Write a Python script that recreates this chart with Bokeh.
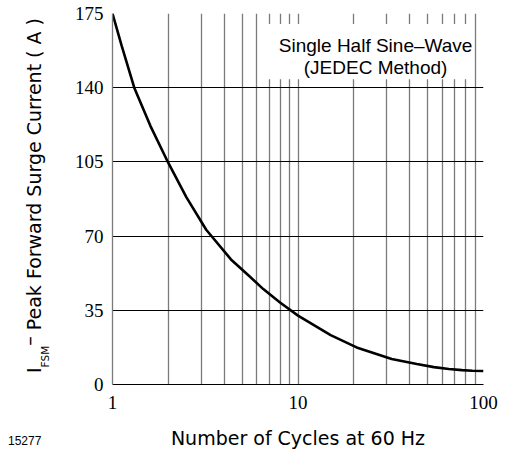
import math
from bokeh.plotting import figure
from bokeh.layouts import row
from bokeh.models import Label, BoxAnnotation, FixedTicker, Range1d, Div
from bokeh.embed import file_html
from bokeh.resources import INLINE

# ---- data ----
cycles = [1, 1.12, 1.31, 1.6, 2, 2.5, 3.2, 4.35, 5.4, 6.5, 8, 10, 15, 20.7, 32, 43.7, 54, 65, 76.5, 87, 100]
current = [175, 159.8, 140, 122, 104.5, 88.4, 73, 59, 51.5, 45, 38.7, 32.5, 23.3, 17.5, 12, 9.7, 8.2, 7.3, 6.8, 6.5, 6.4]

x_major = [1, 10, 100]
x_tick_labels = ["1", "10", "100"]
x_minor = [2, 3, 4, 5, 6, 7, 8, 9, 20, 30, 40, 50, 60, 70, 80, 90]
y_ticks = [0, 35, 70, 105, 140, 175]
y_tick_labels = ["0", "35", "70", "105", "140", "175"]

x_title = "Number of Cycles at 60 Hz"
y_title_main = "I"
y_title_sub = "FSM"
y_title_dash = "–"
y_title_rest = "Peak Forward Surge Current ( A )"
note_lines = ["Single Half Sine–Wave", "(JEDEC Method)"]
fig_id = "15277"

GRID_V = "#7a7a7a"
SANS = "DejaVu Sans"
SERIF = "Liberation Serif"

LEFT_W = 60
TOTAL_H = 450

# ---- main chart ----
p = figure(
    x_axis_type="log",
    x_range=Range1d(1, 100),
    y_range=Range1d(0, 175),
    frame_width=371, frame_height=371,
    min_border_left=112 - LEFT_W, min_border_right=20,
    min_border_top=13, min_border_bottom=TOTAL_H - 13 - 371,
    output_backend="svg", toolbar_location=None,
    background_fill_color="white", border_fill_color="white",
)
p.outline_line_color = None

p.xaxis.ticker = FixedTicker(ticks=x_major, minor_ticks=x_minor)
p.xaxis.major_label_overrides = {t: l for t, l in zip(x_major, x_tick_labels)}
p.yaxis.ticker = FixedTicker(ticks=y_ticks)
p.yaxis.major_label_overrides = {t: l for t, l in zip(y_ticks, y_tick_labels)}

for ax in (p.xaxis, p.yaxis):
    ax.major_tick_line_color = None
    ax.minor_tick_line_color = None
    ax.major_tick_out = 0
    ax.major_tick_in = 0
    ax.minor_tick_out = 0
    ax.minor_tick_in = 0
    ax.major_label_text_font = SERIF
    ax.major_label_text_font_size = "19px"
    ax.major_label_text_color = "black"

p.xaxis.axis_line_color = "black"
p.xaxis.axis_line_width = 1
p.yaxis.axis_line_color = GRID_V
p.yaxis.axis_line_width = 1.3
p.xaxis.major_label_standoff = 11
p.yaxis.major_label_standoff = 9

p.xaxis.axis_label = x_title
p.xaxis.axis_label_text_font = SANS
p.xaxis.axis_label_text_font_size = "19px"
p.xaxis.axis_label_text_font_style = "normal"
p.xaxis.axis_label_text_color = "black"
p.xaxis.axis_label_standoff = 15

p.xgrid.grid_line_color = GRID_V
p.xgrid.grid_line_width = 1.3
p.xgrid.minor_grid_line_color = GRID_V
p.xgrid.minor_grid_line_width = 1.3
p.ygrid.grid_line_color = "black"
p.ygrid.grid_line_width = 1

p.line(cycles, current, line_color="black", line_width=2.6)

# note box
p.add_layout(BoxAnnotation(left=6.1, right=84, bottom=144, top=170,
                           fill_color="white", fill_alpha=1.0, line_color=None,
                           level="annotation"))
for txt, yb in zip(note_lines, [159.7, 149.6]):
    p.add_layout(Label(x=26.2, y=yb, text=txt, text_align="center",
                       text_baseline="alphabetic", text_font="Liberation Sans",
                       text_font_size="19px", text_color="black"))

# ---- left strip: rotated y title with subscript, and the figure id ----
title_html = (
    f'<div style="position:relative;width:{LEFT_W}px;height:{TOTAL_H}px;overflow:visible;">'
    '<div style="position:absolute;left:24.6px;top:373.3px;transform-origin:0 0;'
    'transform:rotate(-90deg);white-space:nowrap;font-family:\'DejaVu Sans\';'
    'font-size:19px;line-height:19px;color:black;">'
    f'{y_title_main}'
    f'<span style="font-size:10.5px;position:relative;top:7.6px;">{y_title_sub}</span>'
    f'<span style="position:relative;top:-5.3px;">{y_title_dash}</span>'
    f' {y_title_rest}</div>'
    '<div style="position:absolute;left:8px;top:435px;font-family:\'Liberation Sans\';'
    f'font-size:12px;line-height:12px;color:black;white-space:nowrap;">{fig_id}</div>'
    '</div>'
)
left = Div(text=title_html, width=LEFT_W, height=TOTAL_H, margin=0)

layout = row(left, p)
open("out.html", "w").write(file_html(layout, INLINE))
